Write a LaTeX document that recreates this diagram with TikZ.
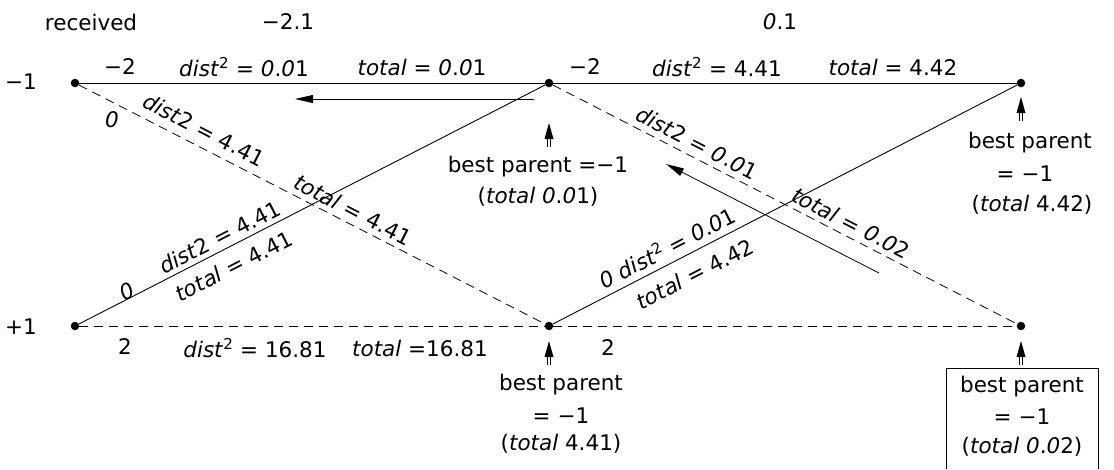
\documentclass[tikz,border=0pt]{standalone}
\usepackage{fontspec}
\setmainfont{DejaVu Sans}
\usetikzlibrary{arrows.meta}
\newcommand\myit[1]{\textit{#1}}
\newcommand\zr{\textit{0}}
\newcommand\sqd{\textsuperscript{2}}
\begin{document}
\begin{tikzpicture}[x=1pt,y=-1pt,
  dot/.style={circle,fill,inner sep=0pt,minimum size=8.5pt},
  lbl/.style={font=\fontsize{21.5}{24}\selectfont, inner sep=0pt, anchor=center},
  edge/.style={line width=0.9pt},
  dashededge/.style={line width=0.8pt, dash pattern=on 9pt off 6pt},
  hint/.style={line width=0.8pt,-{Triangle[length=18pt,width=8pt]}},
  uparr/.pic={\fill (0,0) -- (-4.5,16) -- (4.5,16) -- cycle;
              \draw[line width=0.6pt] (-1.5,16) -- (-1.5,24) (1.5,16) -- (1.5,24);}
]
\useasboundingbox (0,0) rectangle (1114,469);

% trellis nodes
\node[dot] (tl) at (75,83) {};
\node[dot] (tm) at (549,83) {};
\node[dot] (tr) at (1021,83) {};
\node[dot] (bl) at (75,326) {};
\node[dot] (bm) at (549,326) {};
\node[dot] (br) at (1021,326) {};

% edges
\draw[edge] (tl) -- (tm);
\draw[edge] (tm) -- (tr);
\draw[edge] (bl) -- (tm);
\draw[edge] (bm) -- (tr);
\draw[dashededge] (tl) -- (bm);
\draw[dashededge] (tm) -- (br);
\draw[dashededge] (bl) -- (bm);
\draw[dashededge] (bm) -- (br);

% hint arrows
\coordinate (a1s) at (534,99);
\coordinate (a1e) at (295,99);
\draw[hint] (a1s) -- (a1e);
\coordinate (a2s) at (879,273);
\coordinate (a2e) at (666,164);
\draw[hint] (a2s) -- (a2e);

% up arrows under nodes
\pic at (549,123) {uparr};
\pic at (1021,97) {uparr};
\pic at (549,341) {uparr};
\pic at (1021,341) {uparr};

% header
\node[lbl] (rec) at (91,22) {received};
\node[lbl] (c1) at (288,22) {−2.1};
\node[lbl] (c2) at (780,22) {\zr.1};
\node[lbl] (rm1) at (21,82) {−1};
\node[lbl] (rp1) at (21,327) {+1};

% top labels
\node[lbl] (t1) at (120,67) {−2};
\node[lbl] (t2) at (244,67) {\myit{dist}\sqd{} = \zr.\zr1};
\node[lbl] (t3) at (422,67) {\myit{total} = \zr.\zr1};
\node[lbl] (t4) at (585,67) {−2};
\node[lbl] (t5) at (717,67) {\myit{dist}\sqd{} = 4.41};
\node[lbl] (t6) at (893,67) {\myit{total} = 4.42};

% bottom labels
\node[lbl] (b1) at (125,347) {2};
\node[lbl] (b2) at (255,348) {\myit{dist}\sqd{} = 16.81};
\node[lbl] (b3) at (420,348) {\myit{total} =16.81};
\node[lbl] (b4) at (608,348) {2};

% diagonal labels
\node[lbl] (d1) at (112,120) {\zr};
\node[lbl,rotate=-27.14] (d2) at (204,130) {\myit{dist}2 = 4.41};
\node[lbl,rotate=-27.14] (d3) at (353,210) {\myit{total} = 4.41};
\node[lbl,rotate=27.14] (d4) at (127,291) {\zr};
\node[lbl,rotate=27.14] (d5) at (220,237) {\myit{dist}2 = 4.41};
\node[lbl,rotate=27.14] (d6) at (234,266) {\myit{total} = 4.41};
\node[lbl,rotate=-27.14] (d7) at (697,143) {\myit{dist}2 = \zr.\zr1};
\node[lbl,rotate=-27.14] (d8) at (851,223) {\myit{total} = \zr.\zr2};
\node[lbl,rotate=27.14] (d9) at (667,247) {\zr\ \myit{dist}\sqd{} = \zr.\zr1};
\node[lbl,rotate=27.14] (d10) at (695,274) {\myit{total} = 4.42};

% best parent notes
\node[lbl] (p1) at (538,167) {best parent =−1};
\node[lbl] (p2) at (538,197) {(\myit{total} \zr.\zr1)};
\node[lbl] (q1) at (1030,143) {best parent};
\node[lbl] (q2) at (1025,174) {= −1};
\node[lbl] (q3) at (1032,205) {(\myit{total} 4.42)};
\node[lbl] (r1) at (561,385) {best parent};
\node[lbl] (r2) at (561,416) {= −1};
\node[lbl] (r3) at (561,444) {(\myit{total} 4.41)};
\node[lbl] (s1) at (1022,387) {best parent};
\node[lbl] (s2) at (1022,417) {= −1};
\node[lbl] (s3) at (1022,447) {(\myit{total} \zr.\zr2)};
\draw[line width=0.8pt] (946,469) -- (946,368) -- (1098,368) -- (1098,469);
\end{tikzpicture}
\end{document}
